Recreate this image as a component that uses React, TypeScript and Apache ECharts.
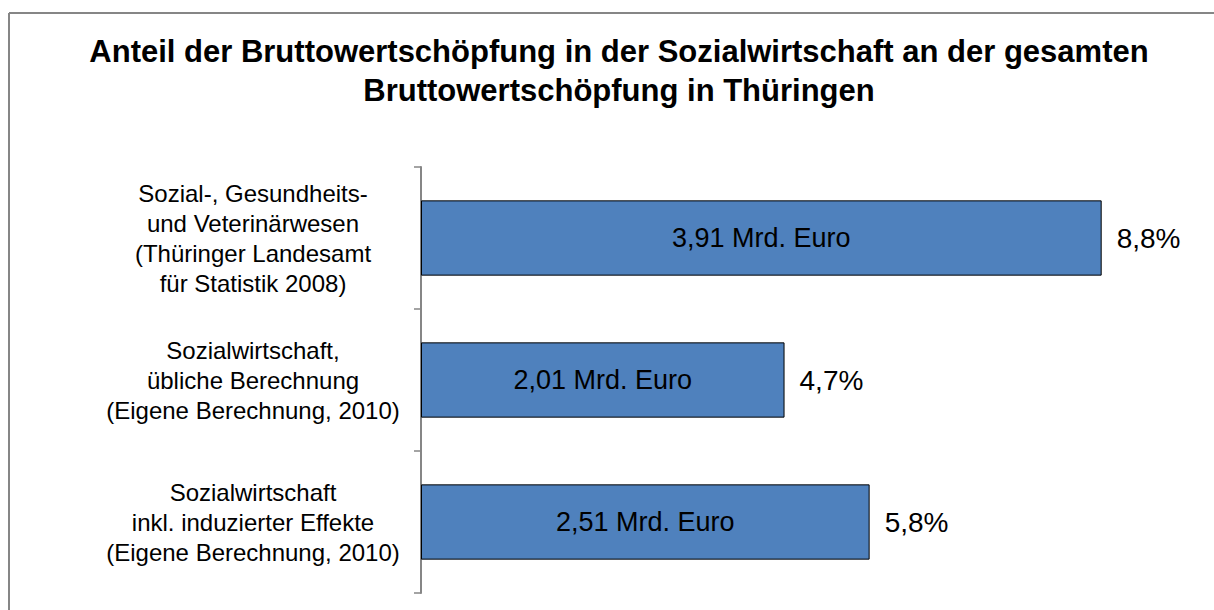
import React, { useEffect, useRef } from "react";
import * as echarts from "echarts";

const titleLines = [
  "Anteil der Bruttowertschöpfung in der Sozialwirtschaft an der gesamten",
  "Bruttowertschöpfung in Thüringen",
];

const categories = [
  "Sozial-, Gesundheits-\nund Veterinärwesen\n(Thüringer Landesamt\nfür Statistik 2008)",
  "Sozialwirtschaft,\nübliche Berechnung\n(Eigene Berechnung, 2010)",
  "Sozialwirtschaft\ninkl. induzierter Effekte\n(Eigene Berechnung, 2010)",
];

const sharePercent = [8.8, 4.7, 5.8];
const mrdEuro = ["3,91", "2,01", "2,51"];

const FONT = "'Liberation Sans', Arial, sans-serif";

export default function App() {
  const ref = useRef<HTMLDivElement>(null);

  useEffect(() => {
    if (!ref.current) return;
    const chart = echarts.init(ref.current, null, { renderer: "svg" });
    chart.setOption({
      animation: false,
      backgroundColor: "#ffffff",
      title: {
        text: titleLines.join("\n"),
        left: 614,
        top: 27,
        textAlign: "center",
        textStyle: {
          fontFamily: FONT,
          fontSize: 31,
          fontWeight: "bold",
          color: "#000000",
          lineHeight: 39,
        },
      },
      graphic: [
        {
          type: "line",
          shape: { x1: 9, y1: 13, x2: 1214, y2: 13 },
          style: { stroke: "#868686", lineWidth: 2 },
        },
        {
          type: "line",
          shape: { x1: 9, y1: 13, x2: 9, y2: 610 },
          style: { stroke: "#868686", lineWidth: 2 },
        },
      ],
      grid: {
        left: 421,
        top: 167,
        bottom: 17,
        right: 19.5,
        containLabel: false,
      },
      xAxis: {
        type: "value",
        min: 0,
        max: 10,
        show: false,
      },
      yAxis: {
        type: "category",
        inverse: true,
        data: categories,
        axisLine: { show: true, lineStyle: { color: "#868686", width: 2 } },
        axisTick: { show: true, length: 7, lineStyle: { color: "#868686", width: 1.5 } },
        axisLabel: {
          fontFamily: FONT,
          fontSize: 24,
          lineHeight: 30,
          color: "#000000",
          align: "center",
          margin: 168,
        },
        splitLine: { show: false },
      },
      series: [
        {
          type: "bar",
          data: sharePercent,
          barWidth: "53%",
          itemStyle: { color: "#4F81BD", borderColor: "#000000", borderWidth: 1 },
          label: {
            show: true,
            position: "inside",
            fontFamily: FONT,
            fontSize: 27,
            color: "#000000",
            formatter: (p: any) => `${mrdEuro[p.dataIndex]} Mrd. Euro`,
          },
          z: 2,
        },
        {
          type: "bar",
          data: sharePercent,
          barWidth: "53%",
          barGap: "-100%",
          itemStyle: { color: "rgba(0,0,0,0)" },
          label: {
            show: true,
            position: "right",
            distance: 15,
            fontFamily: FONT,
            fontSize: 28,
            color: "#000000",
            formatter: (p: any) => `${Number(p.value).toFixed(1).replace(".", ",")}%`,
          },
          silent: true,
          z: 3,
        },
      ],
    });
    return () => chart.dispose();
  }, []);

  return (
    <div
      ref={ref}
      style={{ position: "fixed", left: 0, top: 0, width: 1214, height: 610 }}
    />
  );
}
